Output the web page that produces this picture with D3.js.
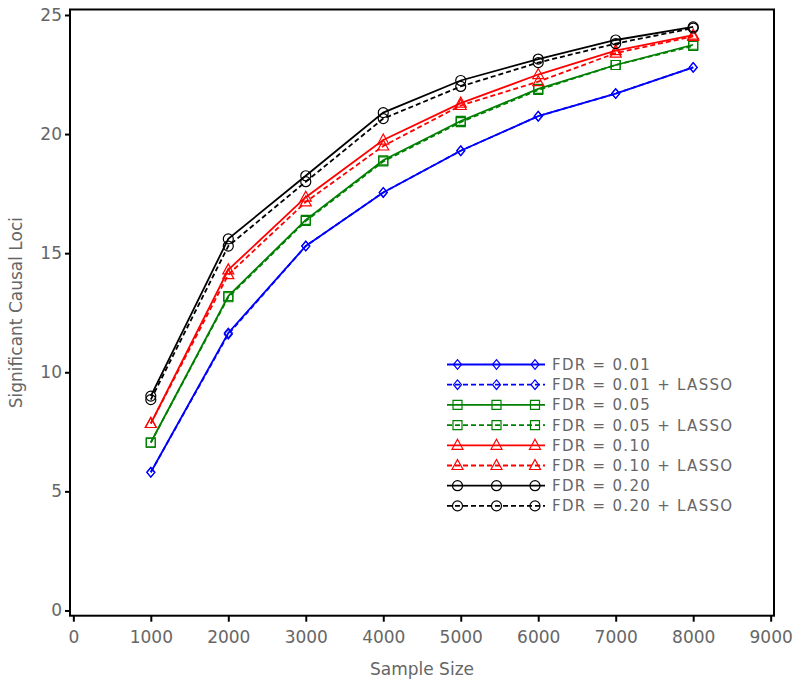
<!DOCTYPE html>
<head>
    <script src="https://d3js.org/d3.v7.min.js"></script>
    <style>
        body { margin: 0; background: #fff; }
        text { font-family: "DejaVu Sans", sans-serif; fill: #666; }
    </style>
</head>
<body>
    <svg></svg>
</body>

<script>
    // Data
    var sampleSizes = [1000, 2000, 3000, 4000, 5000, 6000, 7000, 8000];
    var fdr01 = [5.8, 11.65, 15.3, 17.55, 19.3, 20.75, 21.7, 22.8];
    var fdr01Lasso = [5.8, 11.6, 15.3, 17.55, 19.3, 20.75, 21.7, 22.8];
    var fdr05 = [7.05, 13.2, 16.4, 18.9, 20.55, 21.9, 22.9, 23.75];
    var fdr05Lasso = [7.05, 13.15, 16.35, 18.85, 20.5, 21.85, 22.9, 23.7];
    var fdr10 = [7.85, 14.3, 17.35, 19.75, 21.3, 22.5, 23.5, 24.15];
    var fdr10Lasso = [7.85, 14.1, 17.15, 19.5, 21.2, 22.2, 23.4, 24.1];
    var fdr20 = [9.0, 15.6, 18.25, 20.9, 22.25, 23.15, 23.95, 24.5];
    var fdr20Lasso = [8.85, 15.3, 18.0, 20.65, 22.0, 23.0, 23.8, 24.45];
    var seriesNames = ["FDR = 0.01", "FDR = 0.01 + LASSO", "FDR = 0.05", "FDR = 0.05 + LASSO",
                       "FDR = 0.10", "FDR = 0.10 + LASSO", "FDR = 0.20", "FDR = 0.20 + LASSO"];
    var xTicks = [0, 1000, 2000, 3000, 4000, 5000, 6000, 7000, 8000, 9000];
    var yTicks = [0, 5, 10, 15, 20, 25];

    var series = [
        {name: seriesNames[0], values: fdr01, color: "#0000ff", dashed: false, marker: "diamond"},
        {name: seriesNames[1], values: fdr01Lasso, color: "#0000ff", dashed: true, marker: "diamond"},
        {name: seriesNames[2], values: fdr05, color: "#008000", dashed: false, marker: "square"},
        {name: seriesNames[3], values: fdr05Lasso, color: "#008000", dashed: true, marker: "square"},
        {name: seriesNames[4], values: fdr10, color: "#ff0000", dashed: false, marker: "triangle"},
        {name: seriesNames[5], values: fdr10Lasso, color: "#ff0000", dashed: true, marker: "triangle"},
        {name: seriesNames[6], values: fdr20, color: "#000000", dashed: false, marker: "circle"},
        {name: seriesNames[7], values: fdr20Lasso, color: "#000000", dashed: true, marker: "circle"}
    ];

    // Layout
    var width = 800, height = 688;
    var plotLeft = 70, plotRight = 774, plotTop = 9.5, plotBottom = 615.7;

    var svg = d3.select('svg')
        .attr('width', width)
        .attr('height', height);

    var x = d3.scaleLinear().domain([-43, 9043]).range([plotLeft, plotRight]);
    var y = d3.scaleLinear().domain([-0.22, 25.23]).range([plotBottom, plotTop]);

    // marker shapes
    var markerPath = {
        diamond: "M0,-4.8L4,0L0,4.8L-4,0Z",
        square: "M-4.5,-4.5H4.5V4.5H-4.5Z",
        triangle: "M0,-6L5.5,4L-5.5,4Z",
        circle: "M5,0A5,5 0 1,1 -5,0A5,5 0 1,1 5,0Z"
    };

    // axes
    var xAxis = d3.axisBottom(x).tickValues(xTicks).tickSize(6).tickPadding(9).tickFormat(d3.format("d"));
    var yAxis = d3.axisLeft(y).tickValues(yTicks).tickSize(5).tickPadding(3);

    var gx = svg.append('g').attr('transform', 'translate(0,' + plotBottom + ')').call(xAxis);
    var gy = svg.append('g').attr('transform', 'translate(' + plotLeft + ',0)').call(yAxis);
    [gx, gy].forEach(function (g) {
        g.select('.domain').remove();
        g.selectAll('.tick line').attr('stroke', '#000').attr('stroke-width', 2);
        g.selectAll('.tick text').style('font-size', '17px').attr('fill', '#666');
    });

    // frame
    svg.append('rect')
        .attr('x', plotLeft).attr('y', plotTop)
        .attr('width', plotRight - plotLeft).attr('height', plotBottom - plotTop)
        .attr('fill', 'none').attr('stroke', '#000').attr('stroke-width', 2);

    // axis titles
    svg.append('text')
        .attr('x', (plotLeft + plotRight) / 2).attr('y', 675)
        .attr('text-anchor', 'middle').style('font-size', '17px')
        .text('Sample Size');
    svg.append('text')
        .attr('transform', 'translate(22,' + (plotTop + plotBottom) / 2 + ') rotate(-90)')
        .attr('text-anchor', 'middle').style('font-size', '17px')
        .text('Significant Causal Loci');

    // lines
    var line = d3.line()
        .x(function (d, i) { return x(sampleSizes[i]); })
        .y(function (d) { return y(d); });

    var plot = svg.append('g');
    series.forEach(function (s) {
        plot.append('path')
            .attr('d', line(s.values))
            .attr('fill', 'none')
            .attr('stroke', s.color)
            .attr('stroke-width', 1.8)
            .attr('stroke-dasharray', s.dashed ? '5,3' : null);
        plot.selectAll(null)
            .data(s.values)
            .enter().append('path')
            .attr('d', markerPath[s.marker])
            .attr('transform', function (d, i) { return 'translate(' + x(sampleSizes[i]) + ',' + y(d) + ')'; })
            .attr('fill', 'none')
            .attr('stroke', s.color)
            .attr('stroke-width', 1.2);
    });

    // legend
    var legend = svg.append('g');
    var legX0 = 447, legX1 = 545, legY0 = 364.5, legStep = 20.2;
    var legMarks = [457.5, 496.5, 535];
    series.forEach(function (s, i) {
        var ly = legY0 + i * legStep;
        legend.append('line')
            .attr('x1', legX0).attr('x2', legX1)
            .attr('y1', ly).attr('y2', ly)
            .attr('stroke', s.color).attr('stroke-width', 1.8)
            .attr('stroke-dasharray', s.dashed ? '5,3' : null);
        legMarks.forEach(function (mx) {
            legend.append('path')
                .attr('d', markerPath[s.marker])
                .attr('transform', 'translate(' + mx + ',' + ly + ')')
                .attr('fill', 'none').attr('stroke', s.color).attr('stroke-width', 1.2);
        });
        legend.append('text')
            .attr('x', 552).attr('y', ly + 5.5)
            .style('font-size', '15px').style('letter-spacing', '1.3px')
            .text(s.name);
    });
</script>
